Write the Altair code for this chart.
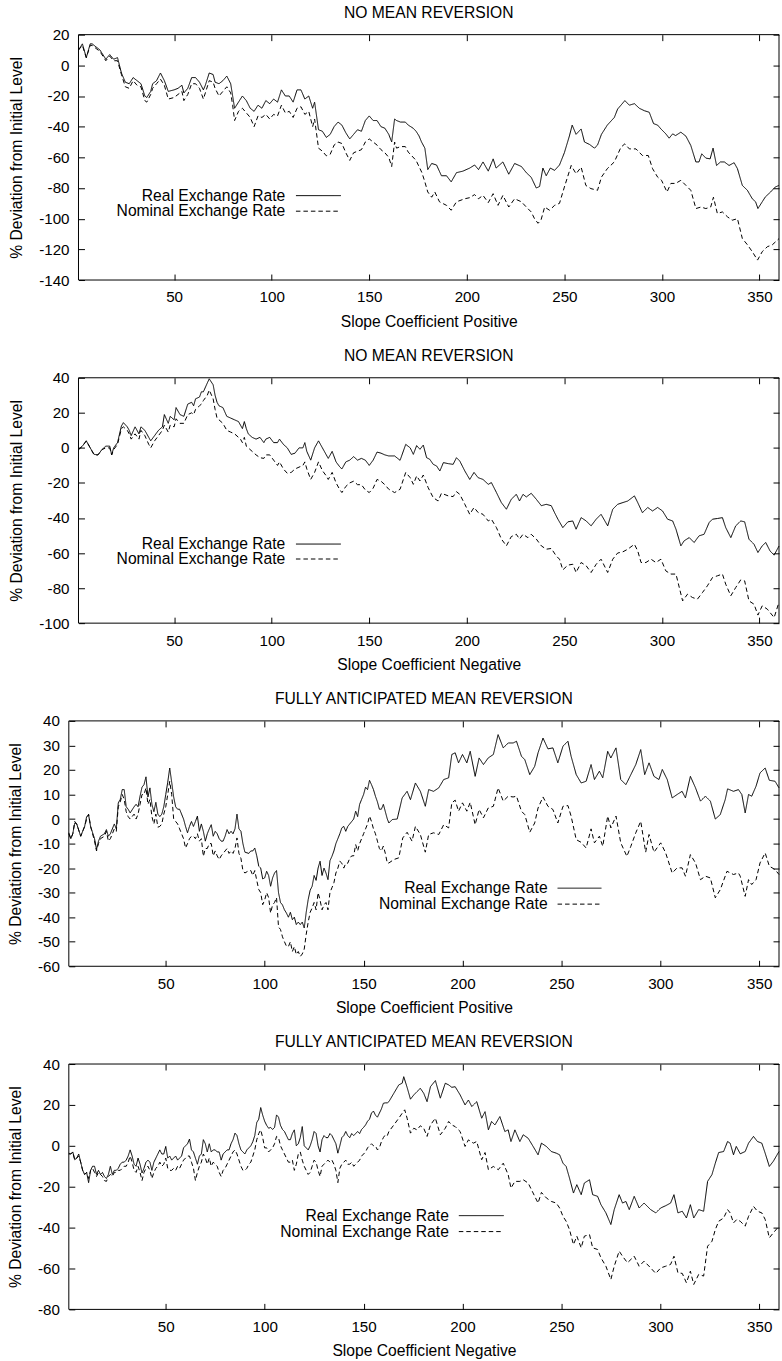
import altair as alt
import pandas as pd

# ---------------- data ----------------
SERIES = ["Real Exchange Rate", "Nominal Exchange Rate"]
Y_TITLE = "% Deviation from Initial Level"
PANEL_TITLES = ["NO MEAN REVERSION", "NO MEAN REVERSION",
                "FULLY ANTICIPATED MEAN REVERSION", "FULLY ANTICIPATED MEAN REVERSION"]
X_TITLES = ["Slope Coefficient Positive", "Slope Coefficient Negative",
            "Slope Coefficient Positive", "Slope Coefficient Negative"]
Y_DOMAINS = [[-140, 20], [-100, 40], [-60, 40], [-80, 40]]
Y_STEPS = [20, 20, 10, 20]
X_DOMAIN = [1, 360]
X_TICKS = [50, 100, 150, 200, 250, 300, 350]

P1_REAL = [(1,10),(3,14),(5,5),(7,14),(8,14),(10,12),(12,10),(15,4),(17,7),(19,4),(21,5),(23,-5),(25,-11),(27,-12),(29,-8),(31,-10),(33,-12),(35,-20),(36,-21),(38,-17),(39,-12),(41,-10),(43,-5),(45,-10),(47,-17),(50,-16),(52,-15),(54,-13),(55,-18),(57,-15),(59,-8),(61,-8),(63,-11),(65,-16),(66,-13),(68,-5),(70,-6),(71,-11),(73,-12),(75,-10),(77,-7),(79,-12),(80,-20),(81,-28),(83,-24),(85,-20),(87,-23),(89,-28),(91,-30),(93,-26),(95,-28),(97,-23),(99,-25),(101,-22),(103,-24),(105,-16),(107,-20),(109,-20),(111,-24),(113,-16),(115,-16),(117,-22),(119,-20),(121,-28),(122,-24),(124,-42),(126,-43),(128,-47),(130,-45),(132,-40),(134,-37),(136,-39),(138,-44),(140,-48),(142,-45),(144,-42),(146,-43),(148,-36),(150,-33),(152,-36),(154,-36),(156,-40),(158,-41),(160,-45),
           (161.5,-50),(163,-35),(164,-36),(166,-37),(168.5,-37),(170,-39),(172.5,-41),(174,-43),(175.5,-46),(176.8,-50),(178.5,-54),(180,-68),(182,-64),(184.5,-65),(187,-72),(189.6,-72),(192,-76),(194.7,-70),(198,-69),(201.5,-67),(204,-65),(206,-68),(208.3,-63),(211,-69),(213.5,-61),(215,-67),(218.5,-63),(221.5,-71),(224.5,-64),(228,-66),(230.5,-70),(233,-73),(235.6,-80),(237.3,-79),(239,-67),(240.7,-72),(242.8,-67),(245,-68.5),(247.5,-65),(250,-57),(252.6,-46),(254,-39),(256,-45),(258.6,-41.5),(260.3,-50),(262.9,-51.6),(265.4,-54),(267,-52),(269,-45),(272,-39),(275.6,-34),(277.3,-28.5),(279,-26),(281,-23),(283.3,-26),(285.9,-25),(288.4,-28),(291,-29.6),(293.5,-30.6),(295.7,-38),(297.8,-39),(299.5,-41.5),(302,-44.7),(303.7,-47.5),(305.5,-44.7),(307,-45.8),(309.7,-43.6),(312.3,-46.2),(314.8,-52.3),(317.4,-63),(319,-63),(320.4,-57.7),(322.5,-60.5),(324.7,-61),(326.2,-54),(328,-65.3),(330,-63),(332,-63),(334.4,-65.3),(337,-63.5),(338.7,-67.4),(341.2,-78.3),(343.8,-81.5),(346.3,-87),(348,-89),(349.2,-93.4),(351.4,-89),(353,-85.8),(355.7,-82.6),(358,-79.4),(360,-78.3)]

P1_NOMINAL = [(1,10),(3,13),(5,5),(7,13),(8,13),(10,11),(12,9),(15,3),(17,6),(19,3),(21,3),(23,-6),(25,-14),(27,-15),(29,-10),(31,-13),(33,-14),(35,-23),(36,-24),(38,-19),(39,-15),(41,-12),(43,-9),(45,-13),(47,-22),(50,-21),(52,-19),(54,-17),(55,-23),(57,-19),(59,-12),(61,-12),(63,-15),(65,-22),(66,-18),(68,-10),(70,-11),(71,-15),(73,-20),(75,-17),(77,-14),(79,-18),(80,-26),(81,-36),(83,-30),(85,-28),(87,-31),(89,-34),(91,-40),(93,-33),(95,-34),(97,-32),(99,-35),(101,-32),(103,-33),(105,-26),(107,-31),(109,-30),(111,-34),(113,-28),(115,-27),(117,-32),(119,-30),(121,-40),(122,-35),(124,-54),(126,-56),(128,-59),(130,-58),(132,-52),(134,-50),(136,-51),(138,-57),(140,-62),(142,-57),(144,-56),(146,-55),(148,-50),(150,-48),(152,-50),(154,-52),(156,-55),(158,-57),(160,-60),
              (161.5,-66),(163,-50),(164,-54),(166,-53),(168.5,-53),(170,-56.6),(174,-62),(177,-70),(178.5,-76),(180,-82.6),(182,-86),(183.6,-82.6),(186,-89),(189.6,-91.3),(192,-94.5),(194.7,-89),(199,-87),(201.5,-86.3),(204,-84.3),(206,-87),(208.3,-84.8),(211,-89.5),(213.5,-83.7),(216,-91.3),(218.5,-84.8),(221.5,-92.4),(224.5,-87),(228,-89),(230.5,-92.4),(233,-95.6),(234.7,-100),(236.5,-103),(238,-101),(239.9,-92.4),(242.4,-94.5),(245,-91.3),(247.5,-90),(250,-79.4),(253.5,-65.3),(256,-70.7),(258.6,-66.4),(261,-78.3),(263.6,-80.4),(267,-81.5),(269,-72.9),(272,-67.4),(275.6,-63),(279,-53.4),(281,-51.2),(283.3,-54.5),(286.7,-54.5),(290,-58.8),(293,-58.8),(295.2,-67.4),(297.8,-72.9),(299.8,-75),(302.6,-82.6),(304.6,-77),(307,-77),(309.7,-75),(312.3,-78.3),(314.8,-81.5),(317.4,-93.4),(320,-92.4),(322.5,-93.4),(325,-92.4),(326.4,-86),(328.4,-96.6),(331,-95.6),(333.6,-98.8),(336,-101),(338.7,-100),(341.2,-112.9),(343.8,-117),(346.3,-121.5),(349,-127),(351.4,-121.5),(354,-118.3),(356.6,-117),(360,-113)]

P2_REAL = [(1,-1),(3,1),(5,4),(7,0),(9,-3.7),(11,-4),(13,-1),(15,1),(17,1),(18,-4),(19,0),(21,3),(23,12.5),(24,14.4),(26,12),(27,10),(28,7),(30,12),(32,8),(33,12),(35,10),(37,6),(38,4),(40,7),(42,10),(44,12),(45,19),(47,14),(48,18),(50,16),(51,23),(53,19),(55,18),(57,25),(59,26),(60,24),(61,28),(63,29),(64,32),(65,32),(67,37),(68,39.4),(70,36),(71,30),(72,26),(73,24),(75,23),(77,18),(79,17),(81,16),(83,15),(84,13),(85,11),(86,15),(87,11),(88,8),(90,6),(92,5),(94,6),(96,3),(97,5),(99,6),(101,3),(103,3),(104,5),(106,2),(108,0),(110,-3.7),(112,-3),(114,0),(116,0),(117,3),(118,-2),(120,-7),(122,0),(124,4),(126,0),(128,-4),(129,-6),(131,-2),(133,-8),(135,-11),(136,-12),(138,-8),(140,-7),(142,-5),(144,-7),(146,-6),(148,-7),(150,-10),(152,-7),(154,-2.4),(156,-3),(158,-4),
           (160,-4.6),(163,-4.6),(165.8,-7.1),(166.6,-4.6),(168.7,2),(171,0),(172.6,-3.7),(174.3,1.3),(176,-0.8),(177.7,1.6),(179.4,-5.6),(181,-6.5),(182.8,-9.4),(184.5,-10.3),(186.2,-13.2),(188,-8.4),(190.5,-9),(193,-9.4),(194.7,-5.6),(196.4,-7.5),(199,-13.2),(201.5,-18),(203.7,-14),(205.8,-17),(208.3,-18),(211,-20.8),(212.6,-19.8),(215.2,-25.5),(217.7,-31.2),(220.3,-35),(222.8,-29.3),(225.4,-26.5),(227,-30.3),(228.8,-26.5),(230.5,-28),(233,-25.9),(235.6,-29.3),(238.2,-33),(240.7,-32.2),(243.3,-33),(245,-37),(246.7,-40.7),(249.2,-45.5),(251.8,-42.2),(254.3,-41.7),(256,-46.4),(258.6,-39.8),(261.2,-41.7),(263.7,-44.5),(266.3,-40.7),(268.8,-37.9),(272.2,-44.5),(274.8,-35),(277.3,-32.2),(280,-31.2),(282.5,-30.3),(285.9,-27.4),(287.6,-31.2),(290,-37),(292.7,-34),(295.2,-36),(297.8,-34),(300.3,-36),(302.9,-40.7),(305.5,-41.7),(307.2,-46.4),(309.7,-55.9),(311.4,-53),(314,-51.2),(316.5,-54),(319,-50.2),(321.6,-49.3),(324.2,-42.6),(325.9,-40.7),(328.4,-40.3),(331,-39.8),(332.7,-45.5),(335.3,-51.2),(337.8,-44.5),(340.4,-41.7),(342.4,-42.2),(344.6,-52.1),(347.2,-55),(349.2,-59.7),(351.4,-55.9),(353.2,-54),(355.4,-58.8),(357.5,-61.2),(360,-56)]

P2_NOMINAL = [(1,-1),(3,1),(5,4),(7,0),(9,-4),(11,-4),(13,-1),(15,0),(17,0),(18,-4),(19,-1),(21,2),(23,11),(24,12),(26,10),(27,8),(28,5),(30,8),(32,5),(33,10),(35,7),(37,2),(38,0),(40,4),(42,7),(44,10),(45,13),(47,9),(48,13),(50,12),(51,16.6),(53,14),(55,14),(57,19),(59,20),(60,19),(61,22),(63,24),(64,25),(65,27),(67,30),(68,33),(70,28),(71,22),(72,17),(73,16),(75,14),(77,10),(79,9),(81,8),(83,6),(84,5),(85,3),(86,6),(87,1),(88,0),(90,-2),(92,-4),(94,-5.6),(96,-6),(97,-4),(99,-4),(101,-7),(103,-10),(104,-8),(106,-12),(108,-14.5),(110,-14),(112,-12),(114,-11),(116,-10),(117,-8),(118,-12),(120,-18),(122,-14),(124,-8),(126,-13),(128,-16),(129,-18),(131,-14),(133,-20),(135,-24),(136,-25.5),(138,-22),(140,-20),(142,-19),(144,-21),(146,-21),(148,-24),(150,-25.5),(152,-23),(154,-18),(156,-19),(158,-21),
              (160,-23.6),(163,-25.5),(165.8,-23.6),(168.7,-14),(171,-17),(172.6,-20.8),(174.3,-16),(176,-18.9),(177.7,-15.5),(180.2,-22.7),(182.8,-28.4),(185.3,-30.3),(187,-25.9),(190.5,-27.4),(193,-27.8),(194.7,-25),(196.4,-26.5),(199,-32.2),(201.5,-37.9),(203.7,-34),(205.8,-36.9),(208.3,-37.9),(211,-41.7),(212.6,-40.7),(215.2,-45.5),(217.7,-52),(220.3,-55.9),(222.8,-50.6),(225.4,-49.3),(227,-52),(228.8,-49.3),(231.3,-51.2),(233,-49.3),(235.6,-52),(238.2,-55.9),(240.7,-57.8),(243.3,-57.4),(245.8,-61.6),(247.5,-63.5),(249.2,-69.6),(251.8,-66.9),(254.3,-66.4),(256,-71.1),(258.6,-65.4),(261.2,-67.3),(263.7,-71.1),(266.3,-66.4),(268.8,-63.5),(272.2,-71.1),(274.8,-63.5),(277.3,-60),(280,-59.3),(282.5,-57.8),(285.9,-55),(287.6,-58.8),(289.3,-65.4),(291.8,-65.4),(294.4,-63.5),(296.9,-65.4),(299.5,-63.5),(302,-70.2),(304.6,-72),(307.2,-72),(308.9,-79.7),(310.6,-87.3),(313.1,-83.5),(315.7,-85.4),(318.2,-86.3),(320.8,-82.5),(323.3,-78.7),(325.9,-74),(328.4,-73),(331,-72),(332.7,-77.8),(335.3,-84.4),(337.8,-79.7),(340.4,-75.3),(342.4,-75.9),(344.6,-87.3),(347.2,-89.2),(349.2,-95.4),(351.4,-90.1),(354,-92),(357.5,-96.8),(360,-88)]

P3_REAL = [(1,-5.6),(2,-8),(3,-6),(4,-1.6),(5,-2),(7,-7),(9,-3),(10,1),(11,1.7),(12,-3),(14,-8),(15,-12.4),(16,-9),(17,-7),(19,-6),(20,-4.3),(21,-7),(22,-6),(24,-2),(25,-4),(26,6.6),(27,8),(28,12),(29,12),(30,5),(31,4),(32,2.5),(34,5),(35,6),(36,5),(37,9.3),(38,13),(39,14),(40,17.2),(41,9),(42,12.7),(43,6),(44,3),(45,6.8),(46,2),(47,1),(48,2),(49,5),(50,10),(51,15),(52,20.8),(53,15),(54,9),(55,5),(56,4),(57,4),(58,2),(59,0),(60,-3),(61,-5.6),(62,-3),(63,-1),(64,-3),(65,-1),(66,1.2),(67,-5),(68,-2),(69,-5),(70,-9),(71,-6),(72,-4),(73,-2.3),(74,-7),(75,-5),(76,-6),(77,-8),(78,-9),(79,-9),(80,-7),(81,-4.3),(82,-6),(83,-5),(84,-6),(85,-4),(86,2),(87,-4),(88,-5),(89,-10),(90,-13.5),(92,-14),(93,-13),(94,-13),(95,-11.8),(96,-15),(97,-19.2),(98,-20),(99,-24.4),(100,-24),(101,-21.3),(102,-23),(103,-27.4),(104,-24),(105,-22),(106,-21),(107,-30),(108,-34),(109,-35),(110,-37),(111,-38.3),(112,-40),(113,-38),(114,-41),(115,-40),(116,-43),(117,-42),(118,-43),(119,-42),(120,-44.4),(121,-38),(122,-32.8),(123,-29),(124,-27.4),(125,-23),(126,-25),(127,-20),(128,-17.2),(129,-23),(130,-20),(131,-22),(132,-24.7),(133,-17),(134,-15.2),(135,-13),(136,-10),(137,-8),(138,-6),(139,-3.6),(140,-3),(141,-5),(142,-3),(143,-2),(144,-1),(145,0),(146,3.2),(147,1),(148,6),(149,8),(150,10),(151,13),(152,12),(153,15.8),(154,14),(155,12),(156,9.3),(157,7),(158,4),(159,4),(160,6),(161,3),(162,0),
           (162.8,-1.6),(164.5,-0.2),(167,0),(169.5,8.6),(172,11.3),(173.7,7.9),(176.2,14.7),(178.7,11.3),(181.2,5.2),(182.9,12),(185.4,11.3),(188,12.7),(190.5,16.1),(193,16.8),(194.6,26.3),(196.3,27),(198,22.9),(200,26.3),(202.2,22.9),(203.9,27.6),(206.4,17.4),(208.4,24.9),(210.6,22.2),(213,24.9),(215.6,26.3),(218,34.4),(220.6,29),(223.1,31),(225.6,31),(227.3,31.7),(229.8,25.6),(231.5,24.2),(234,18.1),(236.5,21.5),(238.2,27),(240.7,33),(243.2,28.6),(245.7,29),(248.2,22.9),(250.8,29.7),(253.3,31.7),(254.9,25.6),(257.5,18.1),(260,14.7),(262.5,15.4),(265,22.2),(266.7,16.1),(269.2,19.5),(270.9,16.8),(273.4,27.6),(275,24.9),(277.6,29),(280,16.1),(282.6,14),(285.1,18.1),(287.6,22.2),(290.1,28.3),(292.1,18.1),(294.3,22.9),(296.8,17.4),(299.3,16.1),(301,20.2),(303.5,16.1),(306,8.6),(308.5,10),(311,11.3),(312.7,8.6),(315.2,17.4),(317.8,12.7),(320.3,7.3),(322.8,9.3),(325.3,7.3),(327.8,0),(330.3,1.8),(332.8,7.9),(334,12.3),(337,11.3),(339.5,12),(341.2,10),(342.9,2.5),(344.6,10),(346.2,9.3),(348.4,13.4),(350.4,18.8),(353,20.8),(355.1,15.8),(358,15.4),(360,12.7)]

P3_NOMINAL = [(1,-6),(2,-8),(3,-6),(4,-1),(5,-2),(7,-7),(9,-3),(10,0),(11,2),(12,-3),(14,-9),(15,-13),(16,-10),(17,-8),(19,-7),(20,-5),(21,-9),(22,-8),(24,-4),(25,-5),(26,5),(27,7),(28,10),(29,8),(30,3),(31,1),(32,0),(34,2),(35,0),(36,2),(37,6),(38,10),(39,10),(40,12.7),(41,6),(42,8),(43,1),(44,-2),(45,2),(46,-3.3),(47,-3),(48,-2),(49,2),(50,5),(51,10),(52,15.4),(53,10),(54,0),(55,-1),(56,-2),(57,-4),(58,-6),(59,-8),(60,-11.8),(61,-10),(62,-8),(63,-7),(64,-7),(65,-8),(66,-6),(67,-9),(68,-8),(69,-15.2),(70,-12),(71,-12),(72,-10),(73,-10),(74,-15),(75,-13),(76,-15),(77,-16.5),(78,-15),(79,-14),(80,-13),(81,-12),(82,-14),(83,-13),(84,-14),(85,-12),(86,-7.7),(87,-14),(88,-16),(89,-21),(90,-22),(92,-21),(93,-21),(94,-23),(95,-21),(96,-25),(97,-28.7),(98,-30),(99,-34.9),(100,-33),(101,-30),(102,-32),(103,-38.3),(104,-35),(105,-34),(106,-32),(107,-44),(108,-45),(109,-48),(110,-50),(111,-51.8),(112,-52),(113,-50),(114,-54),(115,-52),(116,-55.2),(117,-54),(118,-56),(119,-55),(120,-53),(121,-47),(122,-42),(123,-38),(124,-36.2),(125,-34),(126,-37),(127,-30),(128,-33),(129,-37),(130,-35),(131,-34),(132,-37),(133,-30),(134,-28),(135,-26),(136,-22),(137,-20),(138,-17.2),(139,-18),(140,-20),(141,-18),(142,-18),(143,-16),(144,-15),(145,-15),(146,-10.4),(147,-13),(148,-10),(149,-8),(150,-6),(151,-4),(152,-2),(153,1.2),(154,-1),(155,-4),(156,-6),(157,-9),(158,-12),(159,-13),(160,-11),(161,-14),(162,-18),
              (162.8,-17.9),(165.3,-16.5),(167.8,-15.8),(169.8,-7.7),(172,-5.4),(174.5,-9),(176.2,-3),(178.7,-6.3),(181.2,-13.5),(182.9,-6.3),(185.4,-5.6),(188,-6.3),(190.5,-2.3),(193,-3.6),(194.6,6.6),(196.3,7.7),(198,3.2),(200,6.6),(202.2,3.2),(203.9,6.8),(206.4,-2.3),(208.4,3.9),(210.6,0.5),(213,4.5),(215.6,5.2),(218,12.7),(220.6,7.3),(223.1,9.3),(225.6,9),(227.3,9.3),(229.8,3.2),(231.5,1.8),(234,-5.4),(236.5,-1.6),(238.2,4.5),(240.7,9),(243.2,5.2),(245.7,3.9),(248.2,-1.6),(250.8,5.2),(253.3,5.5),(254.9,1.2),(257.5,-8.4),(260,-9.5),(262.5,-11.8),(265,-4),(266.7,-9.7),(269.2,-7),(270.9,-11.1),(273.4,1.2),(275,-3.6),(277.6,1.2),(280,-9.7),(283.1,-15.2),(285.1,-11.1),(287.6,-5.6),(290.1,-0.9),(292.6,-13.5),(294.3,-6.3),(296.8,-13.5),(300.2,-9.7),(302.7,-13.8),(306,-22),(308.5,-19.9),(311,-19.9),(312.7,-23.3),(315.2,-14.5),(317.8,-17.9),(320.3,-24.7),(322.8,-23.3),(325.3,-24),(327.8,-32.1),(330.3,-28.8),(333.7,-21.3),(337,-22.6),(339.5,-22),(340.4,-23.3),(342.9,-31.5),(344.6,-24.7),(346.2,-26.7),(348.4,-24.7),(350.4,-17.9),(353,-13.8),(355.1,-19.2),(358,-20.6),(360,-22.6)]

P4_REAL = [(1,-3.6),(2,-4),(3,-3),(4,-6.8),(5,-6),(6,-4),(7,-8),(8,-12),(9,-14),(10,-13),(11,-18),(12,-12),(13,-10),(14,-10),(15,-14),(16,-12),(17,-14),(18,-13),(19,-15),(20,-16),(21,-14),(22,-10),(23,-14),(24,-12),(25,-12),(26,-11),(27,-9),(28,-8),(29,-8),(30,-7),(31,-5),(32,-2),(33,-5),(34,-9),(35,-10),(36,-6),(37,-9),(38,-13.3),(39,-11),(40,-8),(41,-7),(42,-8),(43,-12),(44,-8),(45,-6),(46,-4),(47,-2),(48,-4),(49,-4),(50,-0.3),(51,-6),(52,-5),(53,-7),(54,-6),(55,-5),(56,-7),(57,-6),(58,-5),(59,-1),(60,0),(61,1),(62,3.3),(63,-2),(64,-3),(65,-6),(66,-9),(67,-5),(68,-4),(69,3),(70,1),(71,-3),(72,1),(73,-3),(74,-2),(75,-2),(76,-3),(77,-3),(78,-7),(79,-4),(80,-3),(81,-2),(82,-2),(83,1),(84,3),(85,6.2),(86,5),(87,1),(88,-2),(89,-3),(90,-4),(91,-2),(92,-1),(93,0),(94,2),(95,5),(96,11.4),(97,13),(98,18.7),(99,15),(100,12),(101,10),(102,8.6),(103,9),(104,8),(105,9),(106,15.1),(107,14),(108,10),(109,8),(110,7),(111,5),(112,3),(113,3),(114,6),(115,7.8),(116,0),(117,1),(118,4),(119,9.4),(120,0),(121,-1),(122,-2),(123,0),(124,3),(125,7),(126,6),(127,0),(128,-3),(129,3),(130,5),(131,4),(132,4),(133,6),(134,5),(135,3),(136,1),(137,-3.6),(138,0),(139,4),(140,5),(141,7),(142,5),(143,4),(144,6),(145,5),(146,6),(147,7),(148,6),(149,8),(150,9),(151,10.2),(152,12),(153,13),(154,16),(155,17),(156,15),(157,14),(158,16),(159,18),(160,20.8),(161,21),(162,21),
           (162.8,21.6),(165.3,25.7),(167.8,29.8),(169.5,30.6),(170.3,33.8),(172,28.6),(173.7,22.8),(175.4,24.9),(177,26.5),(178.7,28.1),(180.4,25.7),(182.1,21.6),(183.8,28.9),(186.3,31.9),(188.8,23.3),(191.3,30.6),(193,29.8),(194.6,28.6),(196.3,28.9),(198.8,24.9),(201.3,20),(203,22.4),(204.7,19.2),(207.2,21.6),(209.7,13.5),(211.4,16.7),(213.1,7.8),(214.7,11.9),(216.4,10.2),(218.9,14.3),(221.4,7),(223.1,7.8),(224.5,2.1),(226.5,7.8),(229,2.1),(230.7,5.4),(233.2,3.7),(235.7,-0.3),(238.2,-4.4),(239.9,1.3),(242.4,-0.3),(244.9,-2.8),(247.4,-3.6),(249.1,-4.4),(250.8,-8.5),(252.4,-10.1),(254.1,-15.8),(256.1,-23.1),(257.8,-19),(260,-23.9),(261.6,-18.2),(264.2,-16.6),(265.8,-23.9),(268.3,-24.7),(270,-28.8),(272.5,-32.8),(275,-38.5),(276.7,-31.2),(279.2,-23.9),(280.9,-28),(282.6,-27.2),(284.3,-31.2),(286.8,-24.7),(289.3,-30.4),(291.8,-28),(295.1,-31.2),(297.7,-32.8),(300.2,-30.4),(302.7,-29.3),(305.2,-28),(306.9,-23.9),(308.9,-32.8),(311.1,-32),(313.2,-35.3),(315.2,-28.8),(316.9,-35.3),(319.4,-31.2),(321.9,-32),(323.9,-17.4),(326.1,-14.1),(327.8,-8.5),(329.5,-3.3),(332,-2.8),(334,2.1),(335.3,1.3),(337,-4.4),(338.4,-0.3),(340.4,-3.9),(342.9,-2.8),(344.6,1.3),(347.1,4.6),(349.1,2.1),(351.3,1.3),(353,-3.6),(355.1,-10.1),(357.1,-7.6),(360,-2.8)]

P4_NOMINAL = [(1,-4),(2,-4),(3,-3),(4,-7),(5,-6),(6,-5),(7,-8),(8,-12),(9,-14),(10,-13),(11,-16),(12,-12),(13,-11),(14,-13),(15,-15),(16,-13),(17,-14),(18,-15),(19,-17),(20,-17.4),(21,-15),(22,-14),(23,-15),(24,-13),(25,-13),(26,-12),(27,-12),(28,-11),(29,-10),(30,-10),(31,-8),(32,-5),(33,-8),(34,-12),(35,-13),(36,-10),(37,-13),(38,-17),(39,-13),(40,-11),(41,-10),(42,-12),(43,-16),(44,-13),(45,-11),(46,-10),(47,-8),(48,-10),(49,-9),(50,-6),(51,-11),(52,-12),(53,-12),(54,-11),(55,-12),(56,-10),(57,-11),(58,-9),(59,-7),(60,-6),(61,-5),(62,-5),(63,-8),(64,-11),(65,-17),(66,-13),(67,-10),(68,-8),(69,-4),(70,-6),(71,-9),(72,-6),(73,-10),(74,-8),(75,-9),(76,-10),(77,-13),(78,-15),(79,-12),(80,-11),(81,-9),(82,-7),(83,-5),(84,-3),(85,-2),(86,-4),(87,-7),(88,-10),(89,-12),(90,-12),(91,-11),(92,-9),(93,-8),(94,-5),(95,-2),(96,3),(97,6),(98,7.8),(99,4),(100,-1),(101,-1),(102,-3),(103,-2),(104,-1),(105,1),(106,4.6),(107,4),(108,0),(109,-2),(110,-4),(111,-6),(112,-8),(113,-8),(114,-7),(115,-12),(116,-9),(117,-4),(118,-3),(119,-7),(120,-10),(121,-12),(122,-14),(123,-13),(124,-10),(125,-7),(126,-8),(127,-12),(128,-15),(129,-10),(130,-9),(131,-8),(132,-7),(133,-8),(134,-7),(135,-9),(136,-12),(137,-18),(138,-11),(139,-9),(140,-8),(141,-7),(142,-9),(143,-9),(144,-8),(145,-10),(146,-9),(147,-8),(148,-7),(149,-5),(150,-4),(151,-3),(152,-1),(153,0),(154,1),(155,0),(156,0),(157,-2),(158,-1),(159,2),(160,4),(161,5.4),(162,5),
              (162.8,7),(165.3,10.2),(167.8,13.5),(169.5,15.9),(170.8,17.6),(172,13.5),(173.7,6.2),(175.4,8.6),(177,7.8),(178.7,9.8),(180.4,8.6),(182.1,4.6),(183.8,10.2),(186.3,13.5),(188.8,5.4),(191.3,8.6),(193,11.9),(194.6,10.2),(196.3,9.4),(198.8,7),(201.3,-0.3),(203,2.9),(205.5,1.3),(207.2,2.1),(209.7,-6.8),(211.4,-3.3),(213.1,-11.7),(215.6,-10.1),(218.1,-11.7),(220.6,-8.5),(223.1,-14.1),(224.5,-20.7),(226.5,-17.4),(229,-17.4),(230.7,-16.6),(233.2,-18.2),(235.7,-23.1),(238.2,-28),(239.9,-22.8),(242.4,-25.5),(244.9,-27.2),(247.4,-28),(249.1,-30.4),(250.8,-34.5),(252.4,-36.9),(254.1,-41),(256.1,-48.3),(257.8,-44.2),(260,-49.9),(261.6,-44.2),(264.2,-43.4),(265.8,-49.9),(268.3,-50.7),(270,-54.8),(272.5,-58.9),(275,-65.4),(276.7,-58.9),(279.2,-51.5),(280.9,-54),(283.4,-57.2),(286.8,-54),(289.3,-58.9),(291.8,-56.4),(295.1,-59.7),(297.7,-62.4),(300.2,-59.7),(302.7,-58.9),(305.2,-58),(306.9,-54),(308.9,-62.1),(311.1,-62.4),(313.2,-67),(315.2,-61.3),(316.9,-67.8),(319.4,-62.9),(321.9,-63.7),(323.9,-49.1),(326.1,-46.7),(327.8,-41),(329.5,-36.9),(332,-35.3),(334,-31.2),(335.3,-32.8),(337,-37.7),(338.7,-36),(340.4,-36.9),(342.9,-39.3),(344.6,-34.5),(347.1,-29.6),(349.1,-32),(351.3,-32.8),(353,-36),(355.1,-45),(357.1,-42.6),(360,-39.3)]

# ---------------- styling / layout ----------------
FONT = "Liberation Sans"
FS_LABEL = 15.2
FS_TEXT = 15.7
W, H = 712, 246
TICK = 6
DASHES = [[1, 0], [4.5, 3]]
LABEL_EXPR = "'' + datum.value"


def panel(real, nominal, i, pad, leg):
    rows = [{"x": x, "y": y, "series": SERIES[0]} for x, y in real]
    rows += [{"x": x, "y": y, "series": SERIES[1]} for x, y in nominal]
    df = pd.DataFrame(rows)
    ylo, yhi = Y_DOMAINS[i]
    yticks = list(range(ylo, yhi + 1, Y_STEPS[i]))
    xs = alt.Scale(domain=X_DOMAIN, range=[pad, W], nice=False, zero=False)
    ys = alt.Scale(domain=[ylo, yhi], nice=False, zero=False)
    common = dict(tickSize=TICK, tickColor="black", tickWidth=1, domain=False, grid=False)

    lines = alt.Chart(df).mark_line(strokeWidth=1, color="black").encode(
        x=alt.X("x:Q", scale=xs,
                axis=alt.Axis(orient="bottom", values=X_TICKS, title=X_TITLES[i],
                              offset=-TICK, labelPadding=10, titlePadding=9,
                              labelFlush=False, labelExpr=LABEL_EXPR, **common)),
        y=alt.Y("y:Q", scale=ys,
                axis=alt.Axis(orient="left", values=yticks, title=Y_TITLE,
                              offset=-(TICK + pad), labelPadding=9.5, titlePadding=14,
                              labelExpr=LABEL_EXPR, **common)),
        strokeDash=alt.StrokeDash("series:N",
                                  scale=alt.Scale(domain=SERIES, range=DASHES),
                                  legend=None),
    )
    mirror = alt.Chart(df).mark_line(strokeOpacity=0).encode(
        x=alt.X("x:Q", scale=xs,
                axis=alt.Axis(orient="top", values=X_TICKS, labels=False, title=None,
                              offset=-TICK, **common)),
        y=alt.Y("y:Q", scale=ys,
                axis=alt.Axis(orient="right", values=yticks, labels=False, title=None,
                              offset=-TICK, **common)),
        detail="series:N",
    )
    frame = alt.Chart(pd.DataFrame({"f": [0]})).mark_rect(
        filled=False, stroke="black", strokeWidth=1
    ).encode(x=alt.value(pad), x2=alt.value(W), y=alt.value(0), y2=alt.value(H))

    tx, sx1, sx2, y1, y2 = leg
    legend_layers = []
    for name, dash, ly in zip(SERIES, DASHES, [y1, y2]):
        d = pd.DataFrame({"label": [name]})
        legend_layers.append(
            alt.Chart(d).mark_text(font=FONT, fontSize=FS_TEXT, align="right",
                                   baseline="middle", color="black")
            .encode(text="label:N", x=alt.value(tx), y=alt.value(ly)))
        legend_layers.append(
            alt.Chart(d).mark_rule(color="black", strokeWidth=1, strokeDash=dash)
            .encode(x=alt.value(sx1), x2=alt.value(sx2), y=alt.value(ly)))

    return alt.layer(frame, lines, mirror, *legend_layers).resolve_scale(
        x="independent", y="independent"
    ).resolve_axis(x="independent", y="independent").properties(
        width=W, height=H,
        title=alt.TitleParams(PANEL_TITLES[i], font=FONT, fontSize=FS_TEXT, fontWeight="normal",
                              color="black", frame="group", anchor="middle",
                              offset=6, dx=pad / 2),
    )


p1 = panel(P1_REAL, P1_NOMINAL, 0, 9.7, (217, 227.7, 272.7, 161.4, 177))
p2 = panel(P2_REAL, P2_NOMINAL, 1, 9.7, (217, 227.7, 272.7, 166.7, 181.7))
p3 = panel(P3_REAL, P3_NOMINAL, 2, 0, (480, 490, 534, 167.7, 183.7))
p4 = panel(P4_REAL, P4_NOMINAL, 3, 0, (381, 391, 436, 152, 168))

chart = alt.vconcat(p1, p2, p3, p4, spacing=17).configure(
    padding={"left": 7, "top": 2, "right": 0, "bottom": 0}
).configure_view(stroke="transparent").configure_axis(
    labelFont=FONT, labelFontSize=FS_LABEL, labelColor="black",
    titleFont=FONT, titleFontSize=FS_TEXT, titleFontWeight="normal", titleColor="black",
)

chart.save("out.html", embed_options={"renderer": "svg", "actions": False})
